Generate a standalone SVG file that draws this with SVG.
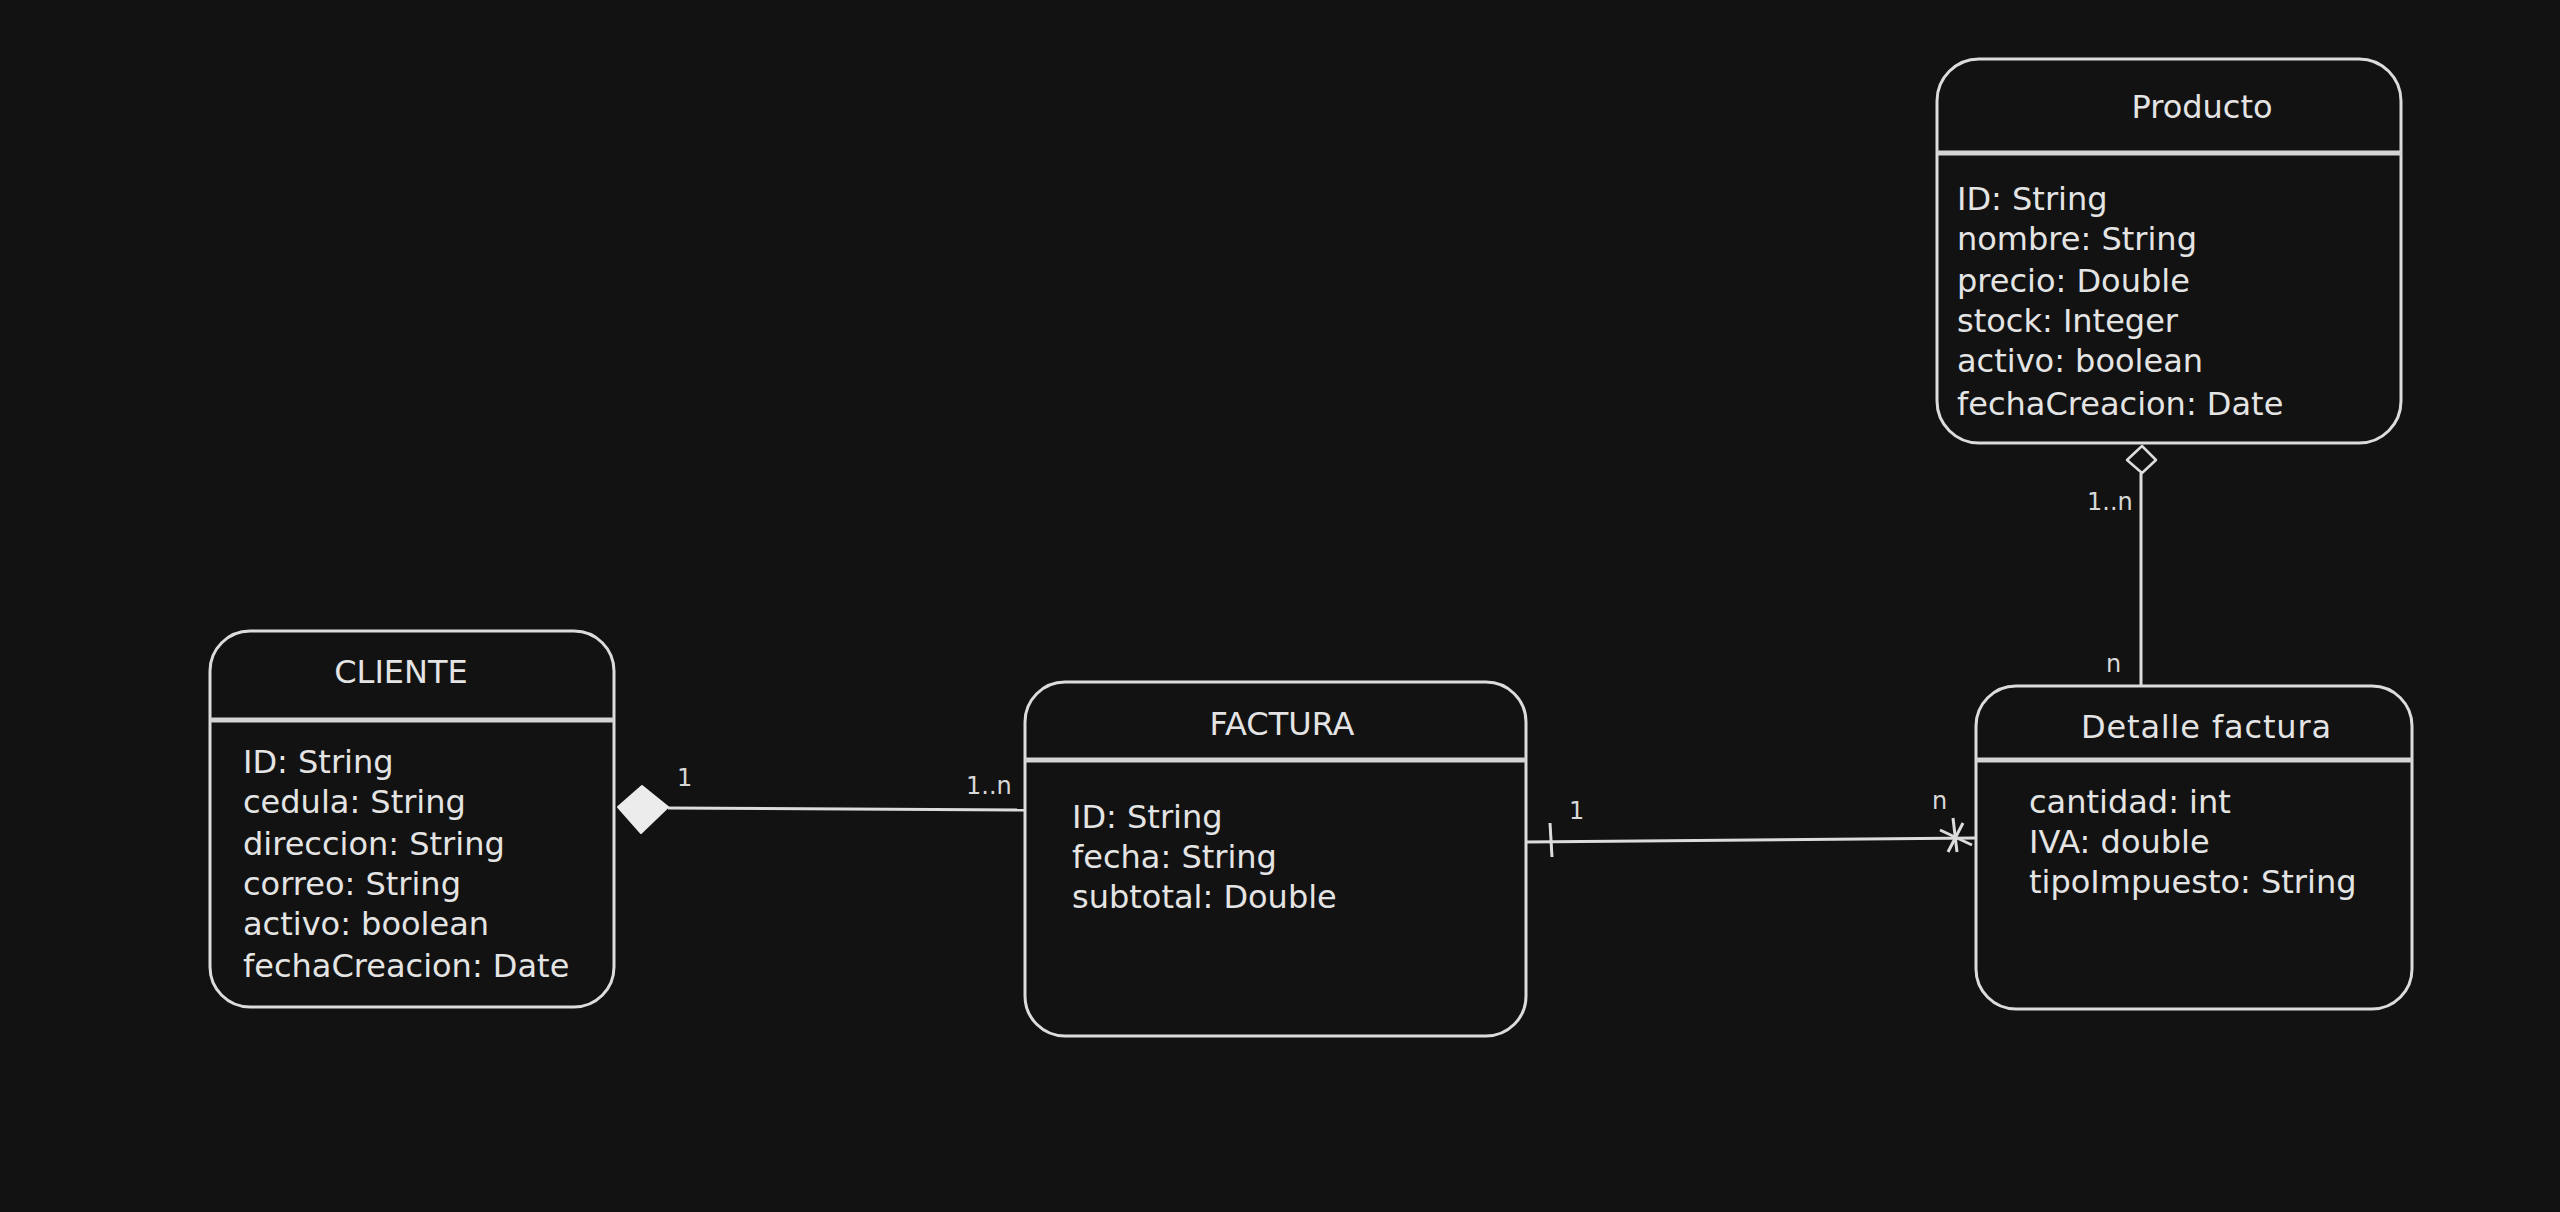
<svg xmlns="http://www.w3.org/2000/svg" width="2560" height="1212" viewBox="0 0 2560 1212">
<style>
.box{fill:#121212;stroke:#dcdcdc;stroke-width:3}
.div{stroke:#d4d4d4;stroke-width:5}
.t{font-family:"DejaVu Sans",sans-serif;font-size:32px;fill:#e4e4e4}
.ttl{text-anchor:middle}
.lbl{font-family:"DejaVu Sans",sans-serif;font-size:24px;fill:#d8d8d8}
.ln{stroke:#dcdcdc;stroke-width:3;fill:none}
</style>
<rect width="2560" height="1212" fill="#121212"/>
<g id="cliente">
<rect class="box" x="210" y="631" width="404" height="376" rx="40"/>
<line class="div" x1="210" y1="720" x2="614" y2="720"/>
<text class="t ttl" x="401" y="683">CLIENTE</text>
<text class="t" x="243" y="773">ID: String</text>
<text class="t" x="243" y="813">cedula: String</text>
<text class="t" x="243" y="855">direccion: String</text>
<text class="t" x="243" y="895">correo: String</text>
<text class="t" x="243" y="935">activo: boolean</text>
<text class="t" x="243" y="977">fechaCreacion: Date</text>
</g>
<g id="factura">
<rect class="box" x="1025" y="682" width="501" height="354" rx="40"/>
<line class="div" x1="1025" y1="760" x2="1526" y2="760"/>
<text class="t ttl" x="1282" y="735">FACTURA</text>
<text class="t" x="1072" y="828">ID: String</text>
<text class="t" x="1072" y="868">fecha: String</text>
<text class="t" x="1072" y="908">subtotal: Double</text>
</g>
<g id="detalle">
<rect class="box" x="1976" y="686" width="436" height="323" rx="40"/>
<line class="div" x1="1976" y1="760" x2="2412" y2="760"/>
<text class="t ttl" x="2206" y="738" textLength="250">Detalle factura</text>
<text class="t" x="2029" y="813">cantidad: int</text>
<text class="t" x="2029" y="853">IVA: double</text>
<text class="t" x="2029" y="893">tipoImpuesto: String</text>
</g>
<g id="producto">
<rect class="box" x="1937" y="59" width="464" height="384" rx="42"/>
<line class="div" x1="1937" y1="153" x2="2401" y2="153"/>
<text class="t ttl" x="2202" y="118">Producto</text>
<text class="t" x="1957" y="210">ID: String</text>
<text class="t" x="1957" y="250">nombre: String</text>
<text class="t" x="1957" y="292">precio: Double</text>
<text class="t" x="1957" y="332">stock: Integer</text>
<text class="t" x="1957" y="372">activo: boolean</text>
<text class="t" x="1957" y="415">fechaCreacion: Date</text>
</g>
<g id="connectors">
<line class="ln" x1="668" y1="808" x2="1025" y2="810"/>
<polygon points="618,807 642,786 668,807 641,833" fill="#ececec" stroke="#ececec" stroke-width="2" stroke-linejoin="round"/>
<text class="lbl" x="677" y="786">1</text>
<text class="lbl" x="966" y="794">1..n</text>
<line class="ln" x1="1526" y1="842" x2="1976" y2="838"/>
<line class="ln" x1="1550" y1="823" x2="1552" y2="857"/>
<line class="ln" x1="1953" y1="818" x2="1957" y2="852"/>
<line class="ln" x1="1940" y1="830" x2="1972" y2="845"/>
<line class="ln" x1="1963" y1="823" x2="1948" y2="852"/>
<text class="lbl" x="1569" y="819">1</text>
<text class="lbl" x="1932" y="809">n</text>
<line class="ln" x1="2141" y1="473" x2="2141" y2="686"/>
<polygon points="2142,446 2156,460 2142,473 2127,460" fill="#121212" stroke="#dcdcdc" stroke-width="2.5" stroke-linejoin="round"/>
<text class="lbl" x="2087" y="510">1..n</text>
<text class="lbl" x="2106" y="672">n</text>
</g>
</svg>
